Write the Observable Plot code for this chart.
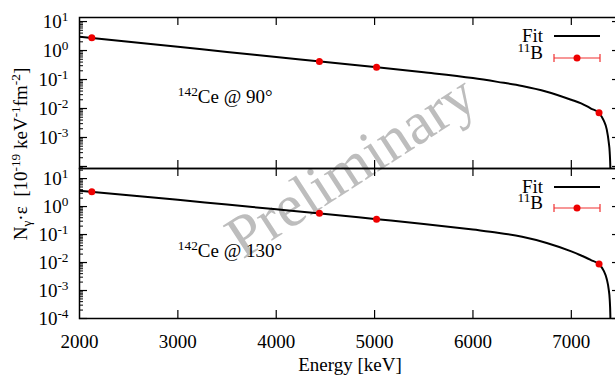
<!DOCTYPE html>
<html><head><meta charset="utf-8">
<script src="https://cdn.jsdelivr.net/npm/d3@7"></script>
<script src="https://cdn.jsdelivr.net/npm/@observablehq/plot@0.6"></script>
<style>
html,body{margin:0;padding:0;overflow:hidden;background:#fff;}
#wrap{position:relative;width:615px;height:377px;overflow:hidden;font-family:"Liberation Serif",serif;}
#wrap > svg{position:absolute;left:0;margin:0;}
</style></head><body><div id="wrap"></div>
<script>
// ---- data ----
const fitEnergy = [2000, 2500, 3000, 3500, 4000, 4500, 5000, 5500, 6000, 6250, 6500, 6750, 7000, 7100, 7200, 7280, 7330, 7360, 7380, 7390, 7397, 7400];
const fit90  = [3.0, 2.0, 1.35, 0.89, 0.60, 0.40, 0.27, 0.178, 0.112, 0.083, 0.060, 0.038, 0.020, 0.0151, 0.010, 0.0071, 0.0038, 0.0019, 0.0007, 0.00032, 0.00008, 0.000001];
const fit130 = [3.7, 2.55, 1.75, 1.18, 0.80, 0.54, 0.36, 0.24, 0.15, 0.117, 0.083, 0.05, 0.025, 0.0178, 0.0122, 0.0089, 0.005, 0.0026, 0.0011, 0.0005, 0.00012, 0.000001];
const pointEnergy = [2125, 4439, 5020, 7282];
const energyErr = [20, 20, 20, 25];
const point90  = [2.74, 0.42, 0.265, 0.0071];
const point130 = [3.4, 0.575, 0.355, 0.0089];
const xTicks = [2000, 3000, 4000, 5000, 6000, 7000];
const yLabelsTop = [1e-3, 1e-2, 1e-1, 1, 10];
const yLabelsBottom = [1e-4, 1e-3, 1e-2, 1e-1, 1, 10];
const panelLabels = ["^{142}Ce @ 90°", "^{142}Ce @ 130°"];
const legendLabels = ["Fit", "^{11}B"];
const xLabel = "Energy [keV]";
const yLabel = "N_{γ}·ε\u00a0\u00a0[10^{-19} keV^{-1}fm^{-2}]";
const watermark = "Preliminary";

const FONT = "Liberation Serif";
const RED = "#ee0000";
const SVGNS = "http://www.w3.org/2000/svg";

function richify(el, base) {
  const s = el.textContent;
  if (!/[\^_]\{/.test(s)) return;
  while (el.firstChild) el.removeChild(el.firstChild);
  const re = /([\^_])\{([^}]*)\}/g;
  let last = 0, m, shift = 0;
  const add = (txt, kind) => {
    const t = document.createElementNS(SVGNS, "tspan");
    t.textContent = txt;
    const target = kind === "^" ? -0.37 * base : kind === "_" ? 0.22 * base : 0;
    const dy = target - shift;
    if (dy) t.setAttribute("dy", dy);
    t.setAttribute("font-size", kind ? base * 0.7 : base);
    shift = target;
    el.appendChild(t);
  };
  while ((m = re.exec(s))) {
    if (m.index > last) add(s.slice(last, m.index), null);
    add(m[2], m[1]);
    last = re.lastIndex;
  }
  if (last < s.length) add(s.slice(last), null);
}

function logTicks(lo, hi) {
  const out = [];
  for (let e = -6; e <= 3; e++) for (let k = 1; k <= 9; k++) {
    const v = k * 10 ** e;
    if (v >= lo && v <= hi) out.push({v, major: k === 1});
  }
  return out;
}

const W = 620, ML = 79, innerW = W - ML;

function panel({fit, pts, yDomain, height, mt, mb, labels, label, labelY, showX}) {
  const innerH = height - mt - mb;
  const yt = logTicks(yDomain[0], yDomain[1]);
  const fitData = fitEnergy.map((e, i) => ({e, v: fit[i]}));
  const ptData = pointEnergy.map((e, i) => ({e, v: pts[i], err: energyErr[i]}));
  const tk = xTicks.slice(1);
  const marks = [
    Plot.line(fitData, {x: "e", y: "v", stroke: "black", strokeWidth: 2, clip: true, curve: "monotone-x"}),
    Plot.link(ptData, {x1: d => d.e - d.err, x2: d => d.e + d.err, y1: "v", y2: "v", stroke: RED, strokeWidth: 1.2}),
    Plot.dot(ptData, {x: "e", y: "v", r: 3.5, fill: RED, stroke: "none"}),
    Plot.tickX(tk, {x: d => d, insetTop: innerH - 8, stroke: "black", strokeWidth: 1.2}),
    Plot.tickX(tk, {x: d => d, insetBottom: innerH - 8, stroke: "black", strokeWidth: 1.2}),
    Plot.tickY(yt.filter(d => d.major), {y: "v", insetRight: innerW - 8, stroke: "black", strokeWidth: 1.2}),
    Plot.tickY(yt.filter(d => !d.major), {y: "v", insetRight: innerW - 4, stroke: "black", strokeWidth: 1}),
    Plot.tickY(yt.filter(d => d.major), {y: "v", insetLeft: innerW - 8, stroke: "black", strokeWidth: 1.2}),
    Plot.tickY(yt.filter(d => !d.major), {y: "v", insetLeft: innerW - 4, stroke: "black", strokeWidth: 1}),
    Plot.axisY({ticks: labels, tickSize: 0, tickPadding: 11, fontSize: 19, label: null,
      tickFormat: d => "10^{" + Math.round(Math.log10(d)) + "}"}),
    Plot.text([label], {x: 3000, y: labelY, text: d => d, textAnchor: "start", fontSize: 19}),
    Plot.frame({stroke: "black", strokeWidth: 1.5})
  ];
  if (showX) {
    marks.push(
      Plot.axisX({ticks: xTicks, tickSize: 0, tickPadding: 16, fontSize: 19, label: null, tickFormat: d => String(d)}),
      Plot.text([xLabel], {frameAnchor: "bottom", lineAnchor: "middle", dy: 46, text: d => d, fontSize: 19})
    );
  }
  const svg = Plot.plot({
    width: W, height, marginLeft: ML, marginRight: 0, marginTop: mt, marginBottom: mb,
    style: {fontFamily: FONT, fontSize: "19px", background: "transparent", maxWidth: "none", overflow: "visible", color: "black"},
    x: {domain: [2000, 7500], axis: null},
    y: {type: "log", domain: yDomain, axis: null},
    marks
  });
  svg.querySelectorAll("text").forEach(t => richify(t, 19));
  return svg;
}

const wrap = document.getElementById("wrap");

// overlay (behind): watermark
const back = d3.create("svg").attr("width", 615).attr("height", 377).style("top", "0px");
back.append("text").attr("transform", "translate(350,165) rotate(-33)")
  .attr("text-anchor", "middle").attr("dy", "0.35em")
  .attr("font-family", FONT).attr("font-size", 60).attr("fill", "#bdbdbd").text(watermark);
wrap.appendChild(back.node());

const topPanel = panel({fit: fit90, pts: point90, yDomain: [10 ** -4.07, 10 ** 1.14], height: 170, mt: 17, mb: 2,
  labels: yLabelsTop, label: panelLabels[0], labelY: 0.026, showX: false});
topPanel.style.top = "0px";
wrap.appendChild(topPanel);

const botPanel = panel({fit: fit130, pts: point130, yDomain: [1e-4, 10 ** 1.36], height: 217, mt: 8, mb: 59,
  labels: yLabelsBottom, label: panelLabels[1], labelY: 0.027, showX: true});
botPanel.style.top = "160px";
wrap.appendChild(botPanel);

// overlay (front): legends and y title
const front = d3.create("svg").attr("width", 615).attr("height", 377).style("top", "0px")
  .attr("font-family", FONT).attr("font-size", 19);
function legend(yFit, yB) {
  front.append("text").attr("x", 543).attr("y", yFit).attr("dy", "0.32em").attr("text-anchor", "end").text(legendLabels[0]);
  front.append("line").attr("x1", 554).attr("x2", 600).attr("y1", yFit).attr("y2", yFit).attr("stroke", "black").attr("stroke-width", 2);
  front.append("text").attr("x", 543).attr("y", yB + 1).attr("dy", "0.32em").attr("text-anchor", "end").text(legendLabels[1]);
  const g = front.append("g").attr("stroke", "#f03030").attr("stroke-width", 1.2);
  g.append("line").attr("x1", 554).attr("x2", 600).attr("y1", yB).attr("y2", yB);
  g.append("line").attr("x1", 554).attr("x2", 554).attr("y1", yB - 4).attr("y2", yB + 4);
  g.append("line").attr("x1", 600).attr("x2", 600).attr("y1", yB - 4).attr("y2", yB + 4);
  front.append("circle").attr("cx", 577).attr("cy", yB).attr("r", 3.5).attr("fill", RED);
}
legend(36, 58);
legend(187, 208);
front.append("text").attr("transform", "translate(27,154) rotate(-90)").attr("text-anchor", "middle").text(yLabel);
front.selectAll("text").each(function() { richify(this, 19); });
wrap.appendChild(front.node());
</script>
</body></html>
